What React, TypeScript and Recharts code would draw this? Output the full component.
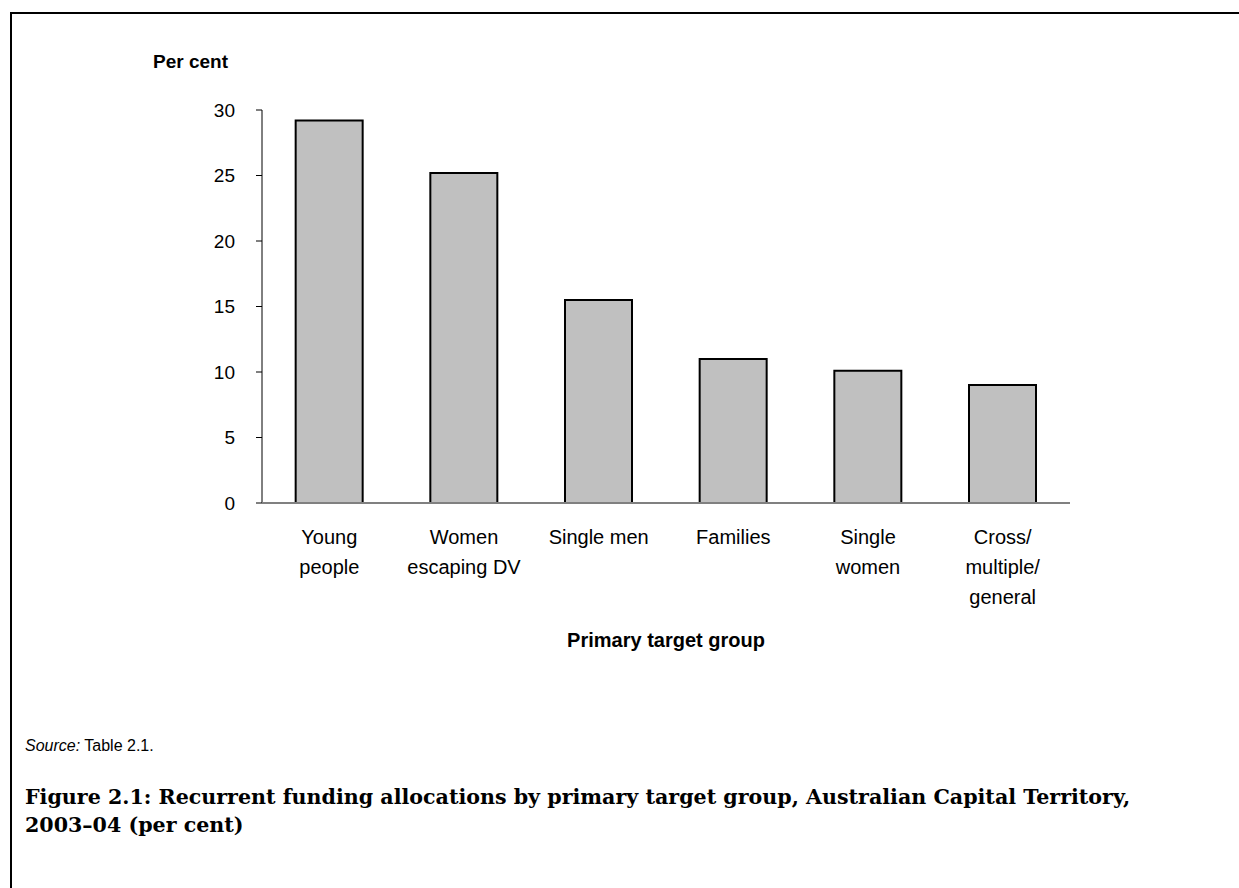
import { Bar, BarChart, XAxis, YAxis } from "recharts";

const categories = [
  "Young people",
  "Women escaping DV",
  "Single men",
  "Families",
  "Single women",
  "Cross/ multiple/ general",
];

// category labels broken onto lines the way they are printed under the axis
const categoryLines = [
  ["Young", "people"],
  ["Women", "escaping DV"],
  ["Single men"],
  ["Families"],
  ["Single", "women"],
  ["Cross/", "multiple/", "general"],
];

const perCent = [29.2, 25.2, 15.5, 11.0, 10.1, 9.0];

const yTicks = [0, 5, 10, 15, 20, 25, 30];

const data = categories.map((name, i) => ({ name, value: perCent[i] }));

const SANS = "'Liberation Sans', Arial, sans-serif";
const SERIF = "'DejaVu Serif', 'Liberation Serif', serif";

function CategoryTick(props: any) {
  const { x, y, index } = props;
  const lines = categoryLines[index] || [];
  return (
    <g transform={`translate(${x},${y})`}>
      {lines.map((line, i) => (
        <text
          key={i}
          x={0}
          y={33 + i * 30}
          textAnchor="middle"
          fontFamily={SANS}
          fontSize={20}
          fill="#000"
        >
          {line}
        </text>
      ))}
    </g>
  );
}

export default function App() {
  return (
    <div
      style={{
        position: "absolute",
        left: 0,
        top: 0,
        width: 1239,
        height: 888,
        overflow: "hidden",
        background: "#fff",
      }}
    >
      {/* frame around the figure, open to the right and bottom */}
      <div
        style={{
          position: "absolute",
          left: 10,
          top: 12,
          width: 1400,
          height: 1000,
          borderLeft: "2px solid #000",
          borderTop: "2px solid #000",
        }}
      />

      <div
        style={{
          position: "absolute",
          left: 153,
          top: 52,
          fontFamily: SANS,
          fontWeight: "bold",
          fontSize: 19,
          lineHeight: "20px",
        }}
      >
        Per cent
      </div>

      <div style={{ position: "absolute", left: 0, top: 0 }}>
        <BarChart
          width={1239}
          height={700}
          data={data}
          margin={{ top: 110, right: 169, left: 182, bottom: 137 }}
          barCategoryGap="25%"
        >
          <YAxis
            domain={[0, 30]}
            ticks={yTicks}
            width={80}
            interval={0}
            axisLine={{ stroke: "#000", strokeWidth: 1 }}
            tickLine={{ stroke: "#000", strokeWidth: 1 }}
            tickSize={6}
            tickMargin={21}
            tick={{ fill: "#000", fontFamily: SANS, fontSize: 19 }}
          />
          <XAxis
            dataKey="name"
            height={60}
            interval={0}
            axisLine={{ stroke: "#808080", strokeWidth: 2 }}
            tickLine={false}
            tick={<CategoryTick />}
          />
          <Bar
            dataKey="value"
            fill="#c0c0c0"
            stroke="#000"
            strokeWidth={2}
            isAnimationActive={false}
          />
        </BarChart>
      </div>

      <div
        style={{
          position: "absolute",
          left: 262,
          width: 808,
          top: 630,
          textAlign: "center",
          fontFamily: SANS,
          fontWeight: "bold",
          fontSize: 20,
          lineHeight: "20px",
        }}
      >
        Primary target group
      </div>

      <div
        style={{
          position: "absolute",
          left: 25,
          top: 737,
          fontFamily: SANS,
          fontSize: 16,
          lineHeight: "18px",
        }}
      >
        <i>Source:</i> Table 2.1.
      </div>

      <div
        style={{
          position: "absolute",
          left: 25,
          top: 783,
          width: 1210,
          fontFamily: SERIF,
          fontWeight: "bold",
          fontSize: 20.6,
          lineHeight: "28px",
          whiteSpace: "nowrap",
        }}
      >
        Figure 2.1: Recurrent funding allocations by primary target group, Australian Capital Territory,
        <br />
        2003–04 (per cent)
      </div>
    </div>
  );
}
